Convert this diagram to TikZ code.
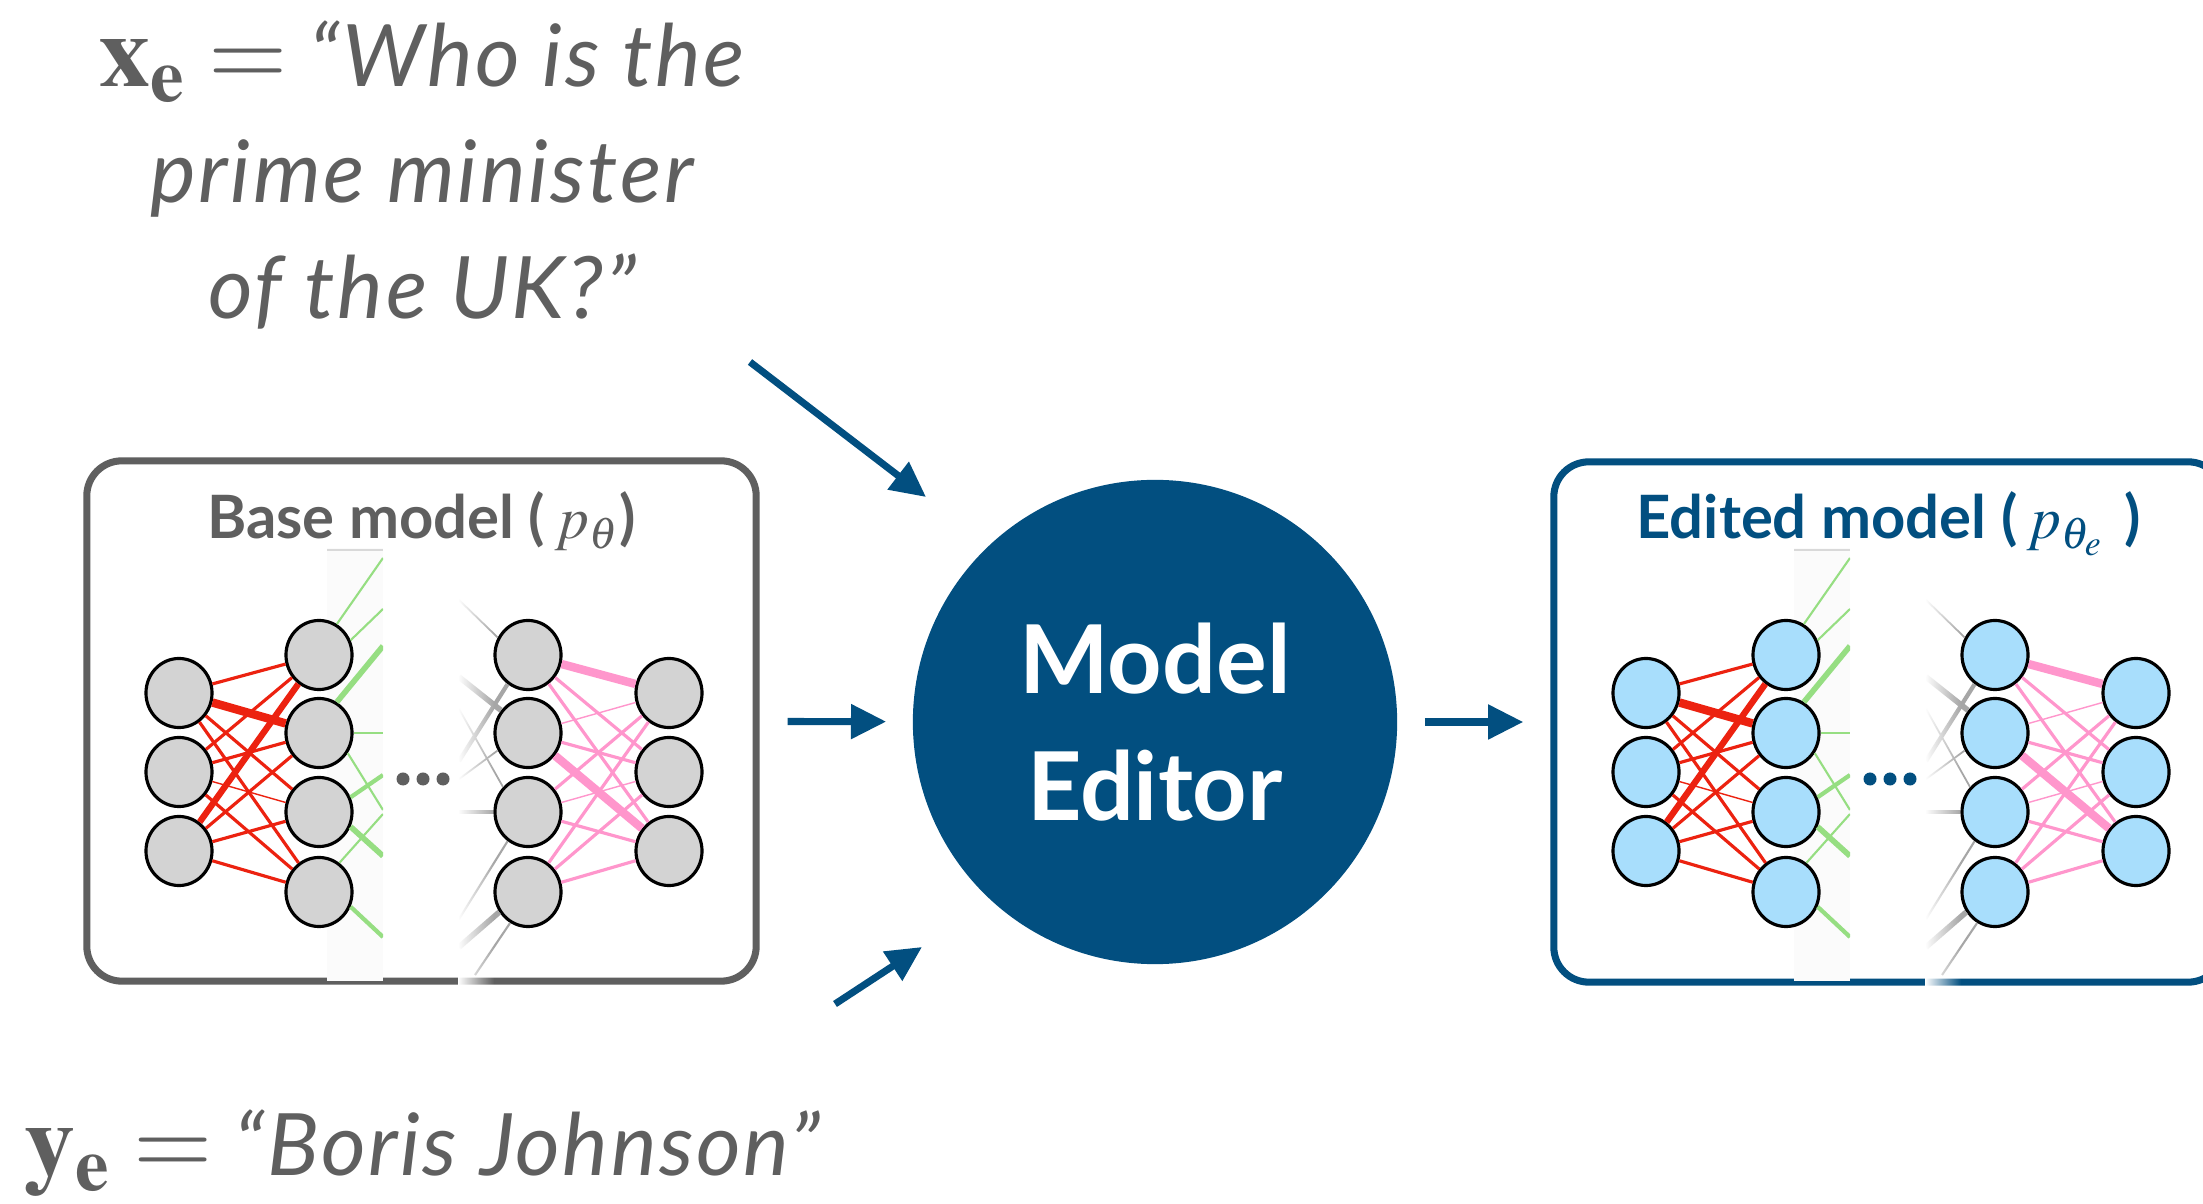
\documentclass[tikz,border=0pt]{standalone}
\usepackage{mathptmx}
\usepackage[no-math]{fontspec}
\setmainfont{Lato}
\newfontfamily\quotefont{Lato}[LetterSpace=3]
\usetikzlibrary{arrows.meta,shapes.geometric,fadings}

\definecolor{edblue}{RGB}{2,79,128}
\definecolor{txtgray}{RGB}{95,95,95}
\definecolor{cellgray}{RGB}{211,211,211}
\definecolor{cellblue}{RGB}{168,222,252}
\definecolor{wred}{RGB}{236,34,16}
\definecolor{wpink}{RGB}{255,150,204}
\definecolor{wgreen}{RGB}{150,222,130}

\tikzset{
  neuron/.style={ellipse, draw=black, line width=0.9pt, minimum width=0.66cm,
    minimum height=0.69cm, inner sep=0pt},
  modelbox/.style={rectangle, rounded corners=0.35cm, line width=2pt,
    minimum width=6.69cm, minimum height=5.2cm},
  flow/.style={edblue, line width=2pt, -{Triangle[length=10pt,width=9.5pt]}},
  quote/.style={text=txtgray, inner sep=0pt,
    font=\quotefont\itshape\fontsize{24.5}{33}\selectfont},
}

% bigger symbol in front of the quotes
\newcommand{\bigsym}[1]{{\fontsize{29}{33}\selectfont$\mathbf{#1}_{\mathbf{e}} =$}}

% small network: #1 name prefix, #2 x offset, #3 cell colour, #4 dots colour
\newcommand{\smallnet}[4]{%
  \begin{scope}[shift={(#2,0)}]
    % faded strip behind the second layer
    \fill[black!1.5] (327,548) rectangle (383,981);
    \draw[black!15] (327,550) -- (383,550);
    % layers
    \foreach \k/\y in {1/693,2/772,3/851} {
      \node[neuron, fill=#3] (#1i\k) at (179,\y) {};
      \node[neuron, fill=#3] (#1o\k) at (669,\y) {};
    }
    \foreach \k/\y in {1/655,2/733,3/812,4/892} {
      \node[neuron, fill=#3] (#1h\k) at (319,\y) {};
      \node[neuron, fill=#3] (#1g\k) at (528,\y) {};
    }
    % input weights
    \foreach \a/\b/\w in {1/1/0.9,1/2/2.4,1/3/0.9,1/4/0.9,
                          2/1/0.9,2/2/0.9,2/3/0.4,2/4/0.9,
                          3/1/1.8,3/2/0.9,3/3/0.9,3/4/0.9}
      \draw[wred, line width=\w pt] (#1i\a) -- (#1h\b);
    % output weights
    \foreach \a/\b/\w in {1/1/2.4,1/2/0.9,1/3/0.9,
                          2/1/0.4,2/2/0.9,2/3/2.4,
                          3/1/0.9,3/2/0.4,3/3/0.9,
                          4/1/0.9,4/2/0.9,4/3/0.9}
      \draw[wpink, line width=\w pt] (#1g\a) -- (#1o\b);
    % cut-off weights leaving the second layer
    \begin{scope}
      \clip (327,540) rectangle (383,990);
      \foreach \a/\ang/\y/\w in {1/60/558/0.6,1/25/609/0.6,2/60/646/1.6,
                                 2/0/733/0.5,2/325/810/0.6,3/25/775/1.2,
                                 3/335/856/1.6,4/55/814/0.6,4/335/937/1.2}
        \draw[wgreen, line width=\w pt] (#1h\a.\ang) -- (383,\y);
    \end{scope}
    % cut-off weights entering the third layer
    \begin{scope}
      \clip (459,540) rectangle (520,990);
      \foreach \a/\ang/\x/\y/\w in {1/150/459/600/0.5,2/140/459/677/1.6,
                                    1/235/459/761/1.2,3/135/459/709/0.5,
                                    2/210/459/779/0.5,3/180/459/812/1.2,
                                    3/235/459/919/0.6,4/215/459/947/1.6,
                                    4/240/475/975/0.6}
        \draw[black!35, line width=\w pt] (#1g\a.\ang) -- (\x,\y);
    \end{scope}
    \fill[white, path fading=east] (458,540) rectangle (494,990);
    % dots
    \foreach \d in {-20,0,20}
      \fill[#4] (423+\d,779) circle (0.065cm);
  \end{scope}}

\begin{document}
\begin{tikzpicture}[x=0.01cm, y=-0.01cm]
  \path[use as bounding box, fill=white] (0,0) rectangle (2203,1204);

  % the two models
  \node[modelbox, draw=txtgray] (base) at (421.5,721) {};
  \node[modelbox, draw=edblue] (edited) at (1888.5,722) {};
  \smallnet{b}{0}{cellgray}{txtgray}
  \smallnet{e}{1467}{cellblue}{edblue}
  \node[anchor=base, text=txtgray, font=\bfseries\fontsize{17}{20}\selectfont]
    (base-title) at (421.5,539) {Base model (\,$p_{\theta}$)};
  \node[anchor=base, text=edblue, font=\bfseries\fontsize{17}{20}\selectfont]
    (edited-title) at (1888.5,539) {Edited model (\,$p_{\theta_e}$\,\,)};

  % editor
  \node[circle, fill=edblue, minimum size=4.84cm, inner sep=0pt, text=white,
    align=center, font=\bfseries\fontsize{27}{36.3}\selectfont]
    (editor) at (1155,722) {Model\\Editor};

  % edit request
  \node[quote, align=center] (xe) at (422,175)
    {\bigsym{x} “Who is the\\prime minister\\of the UK?”};
  \node[quote, anchor=base] (ye) at (422,1175) {\bigsym{y} “Boris Johnson”};

  % arrows
  \coordinate (xe-out) at (750,362);
  \coordinate (ed-top) at (926,497);
  \coordinate (ye-out) at (835,1004);
  \coordinate (ed-bot) at (922,947);
  \draw[flow] (xe-out) -- (ed-top);
  \draw[flow] (ye-out) -- (ed-bot);
  \draw[flow, shorten <=0.28cm, shorten >=0.26cm] (base) -- (editor);
  \draw[flow, shorten <=0.27cm, shorten >=0.27cm] (editor) -- (edited);
\end{tikzpicture}
\end{document}
